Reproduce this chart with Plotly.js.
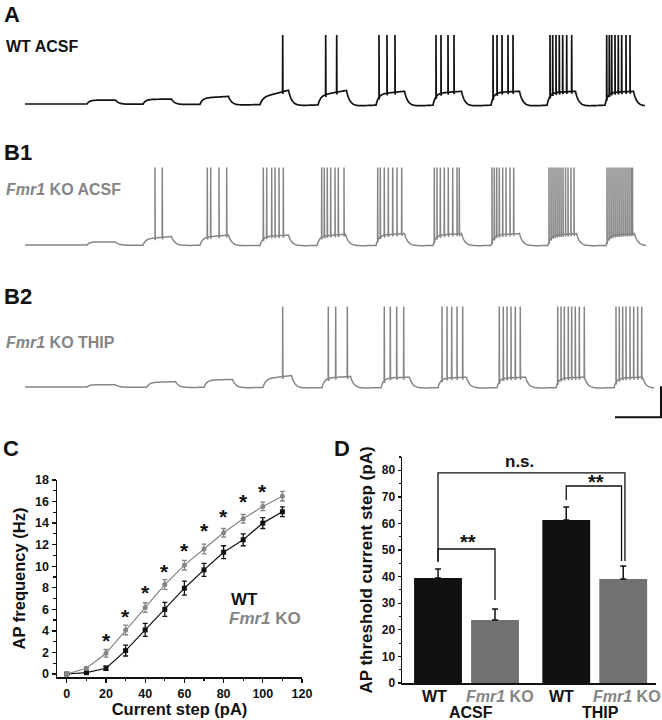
<!DOCTYPE html>
<html>
<head>
<meta charset="utf-8">
<script src="https://cdn.plot.ly/plotly-3.0.1.min.js"></script>
<style>
html,body{margin:0;padding:0;background:#fff;}
#chart{width:662px;height:720px;}
</style>
</head>
<body>
<div id="chart"></div>
<script>
// ---------------- DATA ----------------
// Panel C: AP frequency vs current step
const currentSteps = [0, 10, 20, 30, 40, 50, 60, 70, 80, 90, 100, 110];
const wtFreq = [0, 0.12, 0.53, 2.17, 4.09, 6.0, 7.96, 9.66, 11.3, 12.45, 14.0, 15.05];
const wtErr  = [0.05, 0.1, 0.2, 0.5, 0.6, 0.65, 0.65, 0.6, 0.6, 0.55, 0.5, 0.45];
const koFreq = [0, 0.53, 1.92, 4.09, 6.16, 8.3, 10.1, 11.6, 13.1, 14.4, 15.55, 16.5];
const koErr  = [0.05, 0.15, 0.35, 0.45, 0.45, 0.45, 0.45, 0.45, 0.4, 0.4, 0.4, 0.45];
const starSteps  = [20, 30, 40, 50, 60, 70, 80, 90, 100];
const starLevels = [3.6, 5.8, 8.0, 10.0, 11.9, 13.8, 15.1, 16.5, 17.4];

// Panel D: AP threshold current step
const groupNames = ['ACSF', 'THIP'];
const genotypeNames = ['WT', '<i>Fmr1</i> KO'];
const thrMean = [39.5, 23.7, 61.3, 39.1];   // WT-ACSF, KO-ACSF, WT-THIP, KO-THIP
const thrErr  = [3.4, 4.1, 4.9, 4.9];
const bracketFrom  = [0, 2, 0];
const bracketTo    = [1, 3, 3];
const bracketLevel = [50.4, 74.1, 79.0];
const bracketLeftFoot  = [45.6, 68.8, 45.6];
const bracketRightFoot = [31.2, 45.9, 45.9];
const bracketLabel = ['**', '**', 'n.s.'];

// Panels A, B1, B2: voltage traces (time in ms, depolarisation in mV)
const stepDur = 285;
const onsetsA  = [620, 1180, 1750, 2350, 2930, 3510, 4080, 4660, 5220, 5800];
const plateauStartA = [5, 6, 8, 9, 12, 14, 15, 16, 16, 16];
const plateauEndA   = [5, 6.5, 10, 18, 18, 17, 17, 17, 17, 17];
const undershootA   = [-0.5, -1, -2, -3, -3.5, -3.5, -3.5, -3.5, -3.5, -3.5];
const spikesA = [[], [], [], [2577], [3007, 3117], [3540, 3620, 3700],
  [4110, 4160, 4230, 4290], [4680, 4720, 4770, 4830, 4880],
  [5250, 5277, 5310, 5343, 5377, 5417, 5467],
  [5817, 5843, 5867, 5900, 5933, 5967, 6010, 6050]];
const peakA = 89, endA = 6200;

const onsetsB1 = [620, 1180, 1750, 2350, 2920, 3510, 4080, 4660, 5230, 5810];
const plateauStartB1 = [4, 8, 10, 11, 12, 13, 13, 13, 13, 13];
const plateauEndB1   = [4, 11, 13, 13, 14, 15, 15, 15, 15, 15];
const undershootB1   = [-0.5, -1, -1.5, -1.5, -1.5, -1.5, -1.5, -1.5, -1.5, -1.5];
const spikesB1 = [[], [1300, 1373], [1823, 1857, 1940, 2017],
  [2383, 2417, 2467, 2500, 2540, 2583],
  [2967, 2993, 3023, 3057, 3100, 3133, 3190],
  [3527, 3553, 3593, 3633, 3677, 3720, 3767],
  [4093, 4120, 4153, 4193, 4233, 4277, 4320, 4343],
  [4670, 4693, 4717, 4743, 4777, 4810, 4850, 4887],
  [5240, 5260, 5280, 5300, 5320, 5340, 5360, 5380, 5405, 5430, 5460, 5490],
  [5820, 5840, 5860, 5880, 5900, 5920, 5940, 5960, 5980, 6000, 6020, 6040, 6060, 6075]];
const peakB1 = 100, endB1 = 6210;

const onsetsB2 = [620, 1220, 1790, 2380, 2970, 3560, 4130, 4720, 5310, 5890];
const plateauStartB2 = [3, 6, 9, 11, 12, 12, 12, 12, 12, 12];
const plateauEndB2   = [3, 7, 10, 15, 14, 13, 13, 13, 13, 13];
const undershootB2   = [-0.5, -1, -1.5, -2, -2, -2, -2, -2, -2, -2];
const spikesB2 = [[], [], [], [2577], [3033, 3107, 3223],
  [3593, 3653, 3717, 3787], [4170, 4220, 4267, 4320, 4377],
  [4743, 4783, 4820, 4860, 4903, 4953],
  [5327, 5360, 5393, 5433, 5467, 5503, 5543, 5593],
  [5910, 5943, 5977, 6010, 6050, 6087, 6127, 6167]];
const peakB2 = 104, endB2 = 6290;

const scaleBarMs = 460, scaleBarMv = 40;

// ---------------- STYLE / LAYOUT HELPERS ----------------
const W = 662, H = 720;
const FONT = 'Liberation Sans, Arial, Helvetica, sans-serif';
const BLACK = '#111111', GRAY = '#858585', BARGRAY = '#717171';
const px = x => x / W;
const py = y => 1 - y / H;
const restPot = -70;

function buildWave(on, vStart, vEnd, under, spikes, peak, tEnd) {
  const tauR = 25, tauF = 35, tauRec = 300;
  function V(t) {
    let v = restPot;
    for (let k = 0; k < on.length; k++) {
      const t0 = on[k], t1 = t0 + stepDur;
      if (t < t0) continue;
      if (t <= t1) {
        const f = (t - t0) / stepDur;
        v += (vStart[k] + (vEnd[k] - vStart[k]) * f) * (1 - Math.exp(-(t - t0) / tauR));
      } else {
        const vOff = vEnd[k] * (1 - Math.exp(-stepDur / tauR));
        const d = t - t1;
        v += vOff * Math.exp(-d / tauF) + under[k] * (1 - Math.exp(-d / tauF)) * Math.exp(-d / tauRec);
      }
    }
    return v;
  }
  const pts = [];
  for (let t = 0; t <= tEnd; t += 5) pts.push([t, V(t)]);
  spikes.flat().forEach(s => {
    pts.push([s - 1.5, V(s - 1.5)]);
    pts.push([s, restPot + peak]);
    pts.push([s + 2, V(s + 2) - 3]);
  });
  pts.sort((a, b) => a[0] - b[0]);
  return { x: pts.map(p => p[0]), y: pts.map(p => p[1]) };
}

const wA = buildWave(onsetsA, plateauStartA, plateauEndA, undershootA, spikesA, peakA, endA);
const wB1 = buildWave(onsetsB1, plateauStartB1, plateauEndB1, undershootB1, spikesB1, peakB1, endB1);
const wB2 = buildWave(onsetsB2, plateauStartB2, plateauEndB2, undershootB2, spikesB2, peakB2, endB2);

const traces = [];
traces.push({ x: wA.x, y: wA.y, xaxis: 'x', yaxis: 'y', mode: 'lines',
  line: { color: BLACK, width: 1.7, simplify: false }, hoverinfo: 'skip' });
traces.push({ x: wB1.x, y: wB1.y, xaxis: 'x2', yaxis: 'y2', mode: 'lines',
  line: { color: GRAY, width: 1.5, simplify: false }, hoverinfo: 'skip' });
traces.push({ x: wB2.x, y: wB2.y, xaxis: 'x3', yaxis: 'y3', mode: 'lines',
  line: { color: GRAY, width: 1.5, simplify: false }, hoverinfo: 'skip' });

// scale bar (B2 axes)
const sbRight = 6360, sbBottom = -109;
traces.push({ x: [sbRight - scaleBarMs, sbRight, sbRight], y: [sbBottom, sbBottom, sbBottom + scaleBarMv],
  xaxis: 'x3', yaxis: 'y3', mode: 'lines', line: { color: BLACK, width: 2 }, hoverinfo: 'skip' });

// Panel C
traces.push({ x: currentSteps, y: wtFreq, xaxis: 'x4', yaxis: 'y4', mode: 'lines+markers',
  line: { color: BLACK, width: 1.2 }, marker: { symbol: 'square', size: 5, color: BLACK },
  error_y: { type: 'data', array: wtErr, visible: true, color: BLACK, thickness: 1.3, width: 2.5 },
  cliponaxis: false });
traces.push({ x: currentSteps, y: koFreq, xaxis: 'x4', yaxis: 'y4', mode: 'lines+markers',
  line: { color: GRAY, width: 1.2 }, marker: { symbol: 'circle', size: 5, color: GRAY },
  error_y: { type: 'data', array: koErr, visible: true, color: GRAY, thickness: 1.3, width: 2.5 },
  cliponaxis: false });

// Panel D bars
const groupGap = 2.25;
const barPos = [], barColors = [];
groupNames.forEach((g, gi) => genotypeNames.forEach((n, ni) => {
  barPos.push(gi * groupGap + ni);
  barColors.push(ni === 0 ? BLACK : BARGRAY);
}));
traces.push({ type: 'bar', x: barPos, y: thrMean, xaxis: 'x5', yaxis: 'y5', width: 0.84,
  marker: { color: barColors, line: { width: 0 } },
  error_y: { type: 'data', symmetric: false, array: thrErr, arrayminus: thrErr.map(() => 0),
    color: BLACK, thickness: 1.5, width: 3 }, hoverinfo: 'skip' });

// brackets
const legOff = [0, -0.03, 0.03];
bracketFrom.forEach((f, i) => {
  const x0 = barPos[f], x1 = barPos[bracketTo[i]] + legOff[i];
  traces.push({ x: [x0, x0, x1, x1], y: [bracketLeftFoot[i], bracketLevel[i], bracketLevel[i], bracketRightFoot[i]],
    xaxis: 'x5', yaxis: 'y5', mode: 'lines', line: { color: BLACK, width: 1.3 }, hoverinfo: 'skip', cliponaxis: false });
});

// ---------------- ANNOTATIONS ----------------
const ann = [];
function txt(x, y, text, size, color, xanchor, extra) {
  ann.push(Object.assign({ xref: 'paper', yref: 'paper', x: px(x), y: py(y), text: text,
    showarrow: false, xanchor: xanchor || 'left', yanchor: 'middle',
    font: { family: FONT, size: size, color: color || BLACK } }, extra || {}));
}
txt(2, 14, '<b>A</b>', 22);
txt(4, 47, '<b>WT ACSF</b>', 16);
txt(2, 152, '<b>B1</b>', 22);
txt(4, 190, '<b><i>Fmr1</i> KO ACSF</b>', 16, GRAY);
txt(2, 296, '<b>B2</b>', 22);
txt(4, 342, '<b><i>Fmr1</i> KO THIP</b>', 16, GRAY);
txt(1, 448, '<b>C</b>', 22);
txt(332, 448, '<b>D</b>', 22);
// C legend
txt(229, 599, '<b>WT</b>', 17);
txt(227, 618, '<b><i>Fmr1</i> KO</b>', 17, GRAY);
// C significance stars
starSteps.forEach((s, i) => ann.push({ xref: 'x4', yref: 'y4', x: s, y: starLevels[i], text: '<b>*</b>',
  showarrow: false, xanchor: 'center', yanchor: 'middle', yshift: -5,
  font: { family: FONT, size: 21, color: BLACK } }));
// D bracket labels
const labelX = [0.52, 2.77, 1.43];
const labelShift = [-6, -9, 0];
bracketLabel.forEach((l, i) => ann.push({ xref: 'x5', yref: 'y5', x: labelX[i], y: bracketLevel[i],
  text: '<b>' + l + '</b>', showarrow: false, xanchor: 'center', yanchor: 'bottom',
  yshift: labelShift[i],
  font: { family: FONT, size: l === 'n.s.' ? 17 : 20, color: BLACK } }));
// D category labels
const genoX = [434, 499.5, 561.5, 627];
genoX.forEach((x, i) => txt(x, 696, '<b>' + genotypeNames[i % 2] + '</b>', 16, i % 2 ? GRAY : BLACK, 'center'));
txt(471, 712, '<b>' + groupNames[0] + '</b>', 16, BLACK, 'center');
txt(600, 712, '<b>' + groupNames[1] + '</b>', 16, BLACK, 'center');

// ---------------- AXES ----------------
const hiddenX = { domain: [0, 1], range: [-250, 6370], visible: false, fixedrange: true };
const tickFont = { family: FONT, size: 12.5, color: BLACK, weight: 'bold' };
const titleFont = { family: FONT, size: 16.5, color: BLACK, weight: 'bold' };
const axBase = { showline: true, linewidth: 1.5, linecolor: BLACK, ticks: 'outside', ticklen: 4,
  tickwidth: 1.3, tickcolor: BLACK, showgrid: false, zeroline: false, tickfont: tickFont, fixedrange: true };

const layout = {
  width: W, height: H, margin: { l: 0, r: 0, t: 0, b: 0 }, showlegend: false,
  paper_bgcolor: '#ffffff', plot_bgcolor: 'rgba(0,0,0,0)',
  xaxis: Object.assign({}, hiddenX, { anchor: 'y' }),
  yaxis: { domain: [py(115.6), py(15)], range: [-85, 45], visible: false, anchor: 'x' },
  xaxis2: Object.assign({}, hiddenX, { anchor: 'y2' }),
  yaxis2: { domain: [py(256.6), py(155.9)], range: [-85, 45], visible: false, anchor: 'x2' },
  xaxis3: Object.assign({}, hiddenX, { anchor: 'y3' }),
  yaxis3: { domain: [py(420), py(297.9)], range: [-112.6, 45], visible: false, anchor: 'x3' },
  xaxis4: Object.assign({}, axBase, { domain: [px(57), px(302)], range: [-5, 120], anchor: 'y4',
    tick0: 0, dtick: 20, minor: { dtick: 10, ticklen: 2.5, tickwidth: 1.2, tickcolor: BLACK, ticks: 'outside' },
    title: { text: '<b>Current step (pA)</b>', font: titleFont, standoff: 1 } }),
  yaxis4: Object.assign({}, axBase, { domain: [py(677), py(480)], range: [-0.28, 18], anchor: 'x4',
    tick0: 0, dtick: 2, minor: { dtick: 1, ticklen: 2.5, tickwidth: 1.2, tickcolor: BLACK, ticks: 'outside' },
    title: { text: '<b>AP frequency (Hz)</b>', font: titleFont, standoff: 5 } }),
  xaxis5: Object.assign({}, axBase, { domain: [px(402), px(656)], range: [-0.632, 3.825], anchor: 'y5',
    ticks: '', showticklabels: false }),
  yaxis5: Object.assign({}, axBase, { domain: [py(683), py(457)], range: [0, 85], anchor: 'x5',
    tick0: 0, dtick: 10, ticklen: 3, tickfont: Object.assign({}, tickFont, { size: 12 }),
    minor: { dtick: 5, ticklen: 2, tickwidth: 1.1, tickcolor: BLACK, ticks: 'outside' },
    title: { text: '<b>AP threshold current step (pA)</b>', font: Object.assign({}, titleFont, { size: 17 }), standoff: 5 } }),
  annotations: ann,
  font: { family: FONT, color: BLACK }
};

Plotly.newPlot('chart', traces, layout, { staticPlot: true, displayModeBar: false });
</script>
</body>
</html>
